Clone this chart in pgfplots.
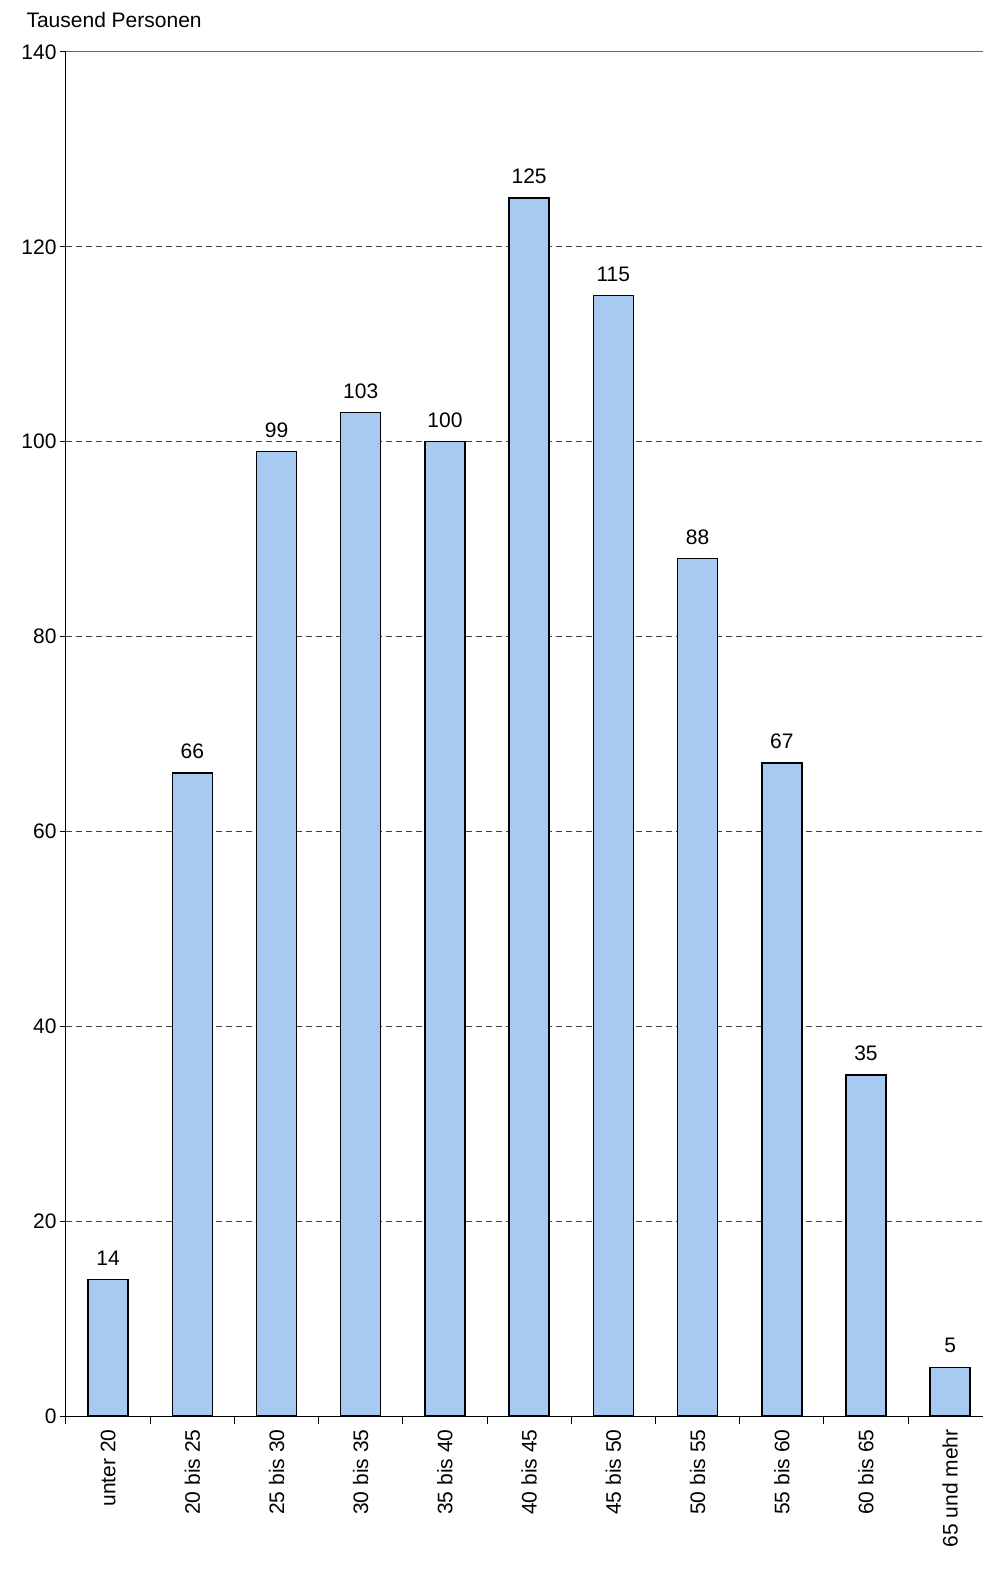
\documentclass[border=0pt]{standalone}
\usepackage{fontspec}
\setmainfont{Liberation Sans}
\usepackage{pgfplots}
\pgfplotsset{compat=1.18}
\definecolor{barb}{HTML}{A6CAF0}
\begin{document}
\begin{tikzpicture}
\begin{axis}[
  scale only axis, width=917pt, height=1364pt,
  xmin=-0.5, xmax=10.39, ymin=0, ymax=140,
  axis lines=left, axis line style={black, line width=1pt, -},
  ytick={0,20,...,120},
  xtick={0,...,10},
  xticklabels={unter 20,20 bis 25,25 bis 30,30 bis 35,35 bis 40,40 bis 45,45 bis 50,50 bis 55,55 bis 60,60 bis 65,65 und mehr},
  x tick label style={rotate=90, anchor=east},
  major x tick style={draw=none},
  minor xtick={-0.5,0.5,1.5,...,9.5},
  minor x tick style={black, line width=1pt},
  minor tick length=8pt,
  major tick length=6pt,
  y tick style={black, line width=1pt},
  extra y ticks={140}, extra y tick style={grid=none},
  tick align=outside,
  ymajorgrids, grid style={dash pattern=on 6pt off 4pt, black!75, line width=0.8pt},
  tick label style={font=\fontsize{21}{24}\selectfont},
  /pgf/number format/assume math mode=true,
  xticklabel shift=4pt,
  ybar, bar width=40pt,
  nodes near coords,
  nodes near coords style={font=\fontsize{21}{24}\selectfont, yshift=10pt},
  clip=false,
]
\addplot[fill=barb, draw=black, line width=1.5pt] coordinates {
(0,14) (1,66) (2,99) (3,103) (4,100) (5,125) (6,115) (7,88) (8,67) (9,35) (10,5)};
\draw[black!60, line width=1pt] (rel axis cs:0,1) -- (rel axis cs:1,1);
\coordinate (bl) at (rel axis cs:0,0);
\node[anchor=west, font=\fontsize{21}{24}\selectfont] at ([shift={(-43pt,32pt)}]rel axis cs:0,1) {Tausend Personen};
\end{axis}
\pgfresetboundingbox
\path ([shift={(-66pt,-154pt)}]bl) rectangle ++(985pt,1570pt);
\end{tikzpicture}
\end{document}
